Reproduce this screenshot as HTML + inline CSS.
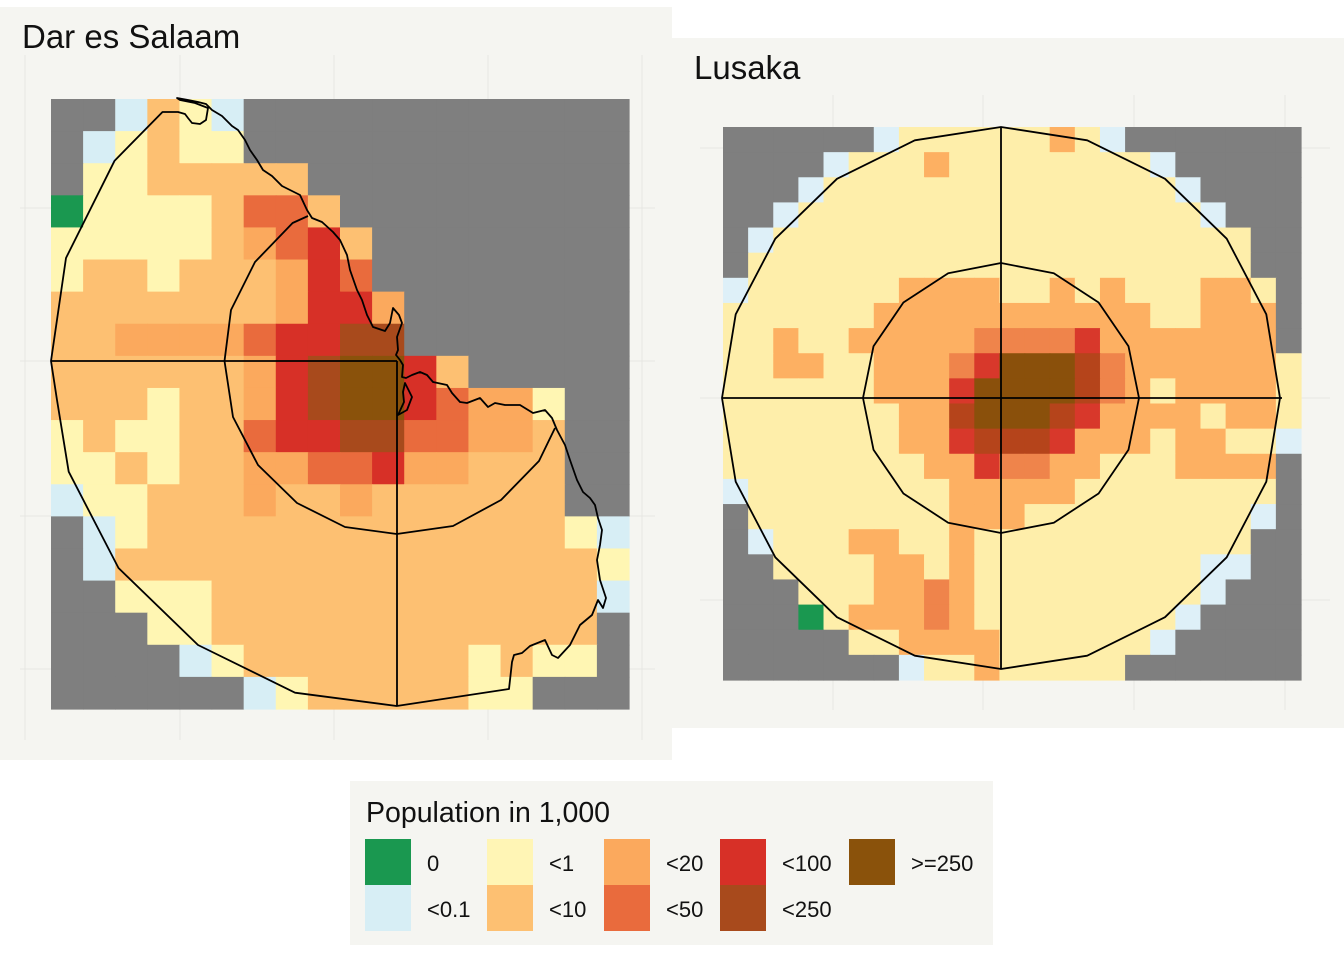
<!DOCTYPE html>
<html><head><meta charset="utf-8">
<style>
html,body{margin:0;padding:0;background:#fff;}
body{width:1344px;height:960px;position:relative;overflow:hidden;font-family:"Liberation Sans",Arial,sans-serif;}
svg{position:absolute;left:0;top:0;}
</style></head>
<body>
<svg id="chart" width="1344" height="960" viewBox="0 0 1344 960">
  <rect x="0" y="7" width="672" height="753" fill="#f5f5f1"/>
  <rect x="672" y="38" width="672" height="690" fill="#f5f5f1"/>
  <g id="dargrid" stroke="#e6e6e2" stroke-width="1">
    <line x1="25" y1="55" x2="25" y2="740"/><line x1="180" y1="55" x2="180" y2="740"/><line x1="334" y1="55" x2="334" y2="740"/><line x1="488" y1="55" x2="488" y2="740"/><line x1="642" y1="55" x2="642" y2="740"/>
    <line x1="20" y1="208" x2="655" y2="208"/><line x1="20" y1="361" x2="655" y2="361"/><line x1="20" y1="516" x2="655" y2="516"/><line x1="20" y1="669" x2="655" y2="669"/>
  </g>
  <g id="lusgrid" stroke="#e6e6e2" stroke-width="1">
    <line x1="833" y1="95" x2="833" y2="710"/><line x1="983" y1="95" x2="983" y2="710"/><line x1="1134" y1="95" x2="1134" y2="710"/><line x1="1285" y1="95" x2="1285" y2="710"/>
    <line x1="700" y1="148" x2="1330" y2="148"/><line x1="700" y1="398" x2="1330" y2="398"/><line x1="700" y1="600" x2="1330" y2="600"/>
  </g>
  <g id="darcells"></g>
  <g id="luscells"></g>
  <g fill="none" stroke="#000" stroke-width="1.8" stroke-linejoin="round">
    <path d="M162.5,112 L114.6,160.7 L66,258 L51,361 L57,400 L68.7,471.7 L118.5,568 L198,645 L295,692.7 L396.7,706 L509,689 L512,662 L514,655 L522,653 L530,646 L545,640 L552,655 L558,658 L570,645 L580,625 L592,615 L598,600 L603,608 L606,598 L600,580 L597,560 L600,545 L602,530 L598,518 L595,505 L590,498 L583,492 L577,480 L570,460 L565,445 L557,430 L552,418 L545,410 L533,413 L520,405 L505,405 L495,403 L488,407 L480,398 L467,403 L460,402 L452,393 L447,385 L433,382 L427,375 L420,372 L412,375 L406,378 L402,377 L403,365 L400,360 L396,355 L398,350 L397,337 L402,323 L399,315 L393,308 L390,323 L385,331 L373,327 L367,315 L362,300 L357,290 L350,270 L347,255 L340,240 L333,232 L322,222 L312,218 L307,210 L300,195 L290,190 L282,186 L272,176 L263,170 L257,160 L250,150 L245,140 L238,130 L232,126 L228,122 L222,116 L212,110 L206,104 L198,102 L188,100 L177,98 L180,100 L195,103 L208,108 L206,120 L200,124 L192,123 L188,118 L185,114 L178,112 L172,112 Z"/>
    <path d="M405,383 L412,397 L407,410 L398,415 L404,402 L403,392 Z"/>
    <path d="M308,216 L292.6,223 L255,262 L231,310 L224.5,361 L233,417 L258,465 L297,503 L345,527 L396.7,534 L453,526 L501,500 L539,461 L555,428"/>
    <line x1="51" y1="361" x2="397" y2="361"/>
    <line x1="397" y1="361" x2="397" y2="706"/>
  </g>
  <g id="lusrings" fill="none" stroke="#000" stroke-width="1.8" stroke-linejoin="round">
    <line x1="1001" y1="128" x2="1001" y2="669"/>
    <line x1="722" y1="398" x2="1282" y2="398"/>
  </g>
  <text x="22" y="48" font-size="33" fill="#111">Dar es Salaam</text>
  <text x="694" y="79" font-size="33" fill="#111">Lusaka</text>
  <g>
    <rect x="350" y="781" width="643" height="164" fill="#f5f5f1"/>
    <text x="366" y="822" font-size="28.5" fill="#111">Population in 1,000</text>
    <g id="legendItems"></g>
  </g>
</svg>
<script>
// Category codes: G no data, Z 0, B <0.1, Y <1, O <10, P <20, R <50, D <100, M <250, X >=250
const darRows = [
"GGBOYBGGGGGGGGGGGG",
"GBYOYYGGGGGGGGGGGG",
"GYYOOOOOGGGGGGGGGG",
"ZYYYYORROGGGGGGGGG",
"YYYYYOPRDOGGGGGGGG",
"YOOYOOOPDRGGGGGGGG",
"OOOOOOOPDDPGGGGGGG",
"OOPPPPRDDMMGGGGGGG",
"OOOOOOPDMXXDOGGGGG",
"OOOYOOPDMXXDRPPYGG",
"YOYYOORDDMMRRPPOGG",
"YYOYOOPPRRDPPOOOGG",
"BYYOOOPOOPOOOOOOGG",
"GBYOOOOOOOOOOOOOYB",
"GBOOOOOOOOOOOOOOOY",
"GGYYYOOOOOOOOOOOOB",
"GGGYYOOOOOOOOOOOOG",
"GGGGBYOOOOOOOYOYYG",
"GGGGGGBYOOOOOYYGGG"
];
const lusRows = [
"GGGGGGBYYYYYYPYBGGGGGGG",
"GGGGBYYYPYYYYYYYYBGGGGG",
"GGGBYYYYYYYYYYYYYYBGGGG",
"GGBYYYYYYYYYYYYYYYYBGGG",
"GBYYYYYYYYYYYYYYYYYYYGG",
"GYYYYYYYYYYYYYYYYYYYYGG",
"BYYYYYYPPPPYYPYPYYYPPYG",
"YYYYYYPPPPPPPPPPPYYPPPG",
"YYPYYPPPPPRRRRDPPPPPPPG",
"YYPPYYPPPRDXXXMRPPPPPPY",
"YYYYYYPPPDXXXXMRPYPPPPY",
"YYYYYYYPPMXXXMDPPPPYPPY",
"YYYYYYYPPDMMMDPPPYPPYYB",
"YYYYYYYYPPDRRPPYYYPPPPG",
"BYYYYYYYYPPPPPYYYYYYYYG",
"GYYYYYYYYPPPYYYYYYYYYBG",
"GBYYYPPYYPYYYYYYYYYYYGG",
"GGYYYYPPYPYYYYYYYYYBBGG",
"GGGYYYPPRPYYYYYYYYYBGGG",
"GGGZYPPPRPYYYYYYYYBGGGG",
"GGGGGYYPPPPYYYYYYBGGGGG",
"GGGGGGGBYYPYYYYYGGGGGGG"
];
const darColors = {G:"#7f7f7f",Z:"#1a9850",B:"#d7eef5",Y:"#fff6b3",O:"#fdc072",P:"#fba95d",R:"#e96b3d",D:"#d73027",M:"#a84a1c",X:"#8a520b"};
const lusColors = {G:"#7f7f7f",Z:"#1a9850",B:"#def0f8",Y:"#feeeaa",O:"#fdc072",P:"#fdb062",R:"#ef844b",D:"#d8382b",M:"#b5441b",X:"#8a500b"};
const legendLabels = ["0","<0.1","<1","<10","<20","<50","<100","<250",">=250"];
const legendCodes = ["Z","B","Y","O","P","R","D","M","X"];
const legendColors = ["#1a9850","#d7eef5","#fff5b5","#fdc072","#fba95d","#e96b3d","#d73027","#a84a1c","#8a520b"];

const NS="http://www.w3.org/2000/svg";
function drawGrid(gid, rows, colors, x0, x1, y0, y1, prefix){
  const g=document.getElementById(gid);
  const nr=rows.length, nc=rows[0].length;
  const cw=(x1-x0)/nc, ch=(y1-y0)/nr;
  rows.forEach((row,r)=>{
    for(let c=0;c<nc;c++){
      const k=row[c];
      const rect=document.createElementNS(NS,"rect");
      rect.setAttribute("x",(x0+c*cw).toFixed(2));
      rect.setAttribute("y",(y0+r*ch).toFixed(2));
      rect.setAttribute("width",(cw+0.6).toFixed(2));
      rect.setAttribute("height",(ch+0.6).toFixed(2));
      rect.setAttribute("fill",colors[k]||colors.G);
      
      
      g.appendChild(rect);
    }
  });
}
drawGrid("darcells",darRows,darColors,51,629,99,709,"dar");
drawGrid("luscells",lusRows,lusColors,723,1301,127,680,"lusaka");

function ring(cx,cy,rx,ry,n,name){
  const pts=[];
  for(let i=0;i<n;i++){const a=i*2*Math.PI/n;pts.push((cx+rx*Math.cos(a)).toFixed(1)+","+(cy+ry*Math.sin(a)).toFixed(1));}
  const p=document.createElementNS(NS,"polygon");
  p.setAttribute("points",pts.join(" "));
  
  
  document.getElementById("lusrings").appendChild(p);
}
ring(1001,398,279,271,20,"lusaka-outer-ring");
ring(1001,398,138,135,16,"lusaka-inner-ring");

const lg=document.getElementById("legendItems");
const lx=[365,487,604,720,849];
legendLabels.forEach((lab,i)=>{
  const col=Math.floor(i/2), row=i%2;
  const x=lx[col], y=839+row*46;
  const r=document.createElementNS(NS,"rect");
  r.setAttribute("x",x);r.setAttribute("y",y);r.setAttribute("width",46);r.setAttribute("height",46);
  r.setAttribute("fill",legendColors[i]);
  
  
  lg.appendChild(r);
  const t=document.createElementNS(NS,"text");
  t.setAttribute("x",x+62);t.setAttribute("y",y+32);
  t.setAttribute("font-size","22");t.setAttribute("fill","#111");
  t.textContent=lab;
  
  
  lg.appendChild(t);
});
</script>
</body></html>
